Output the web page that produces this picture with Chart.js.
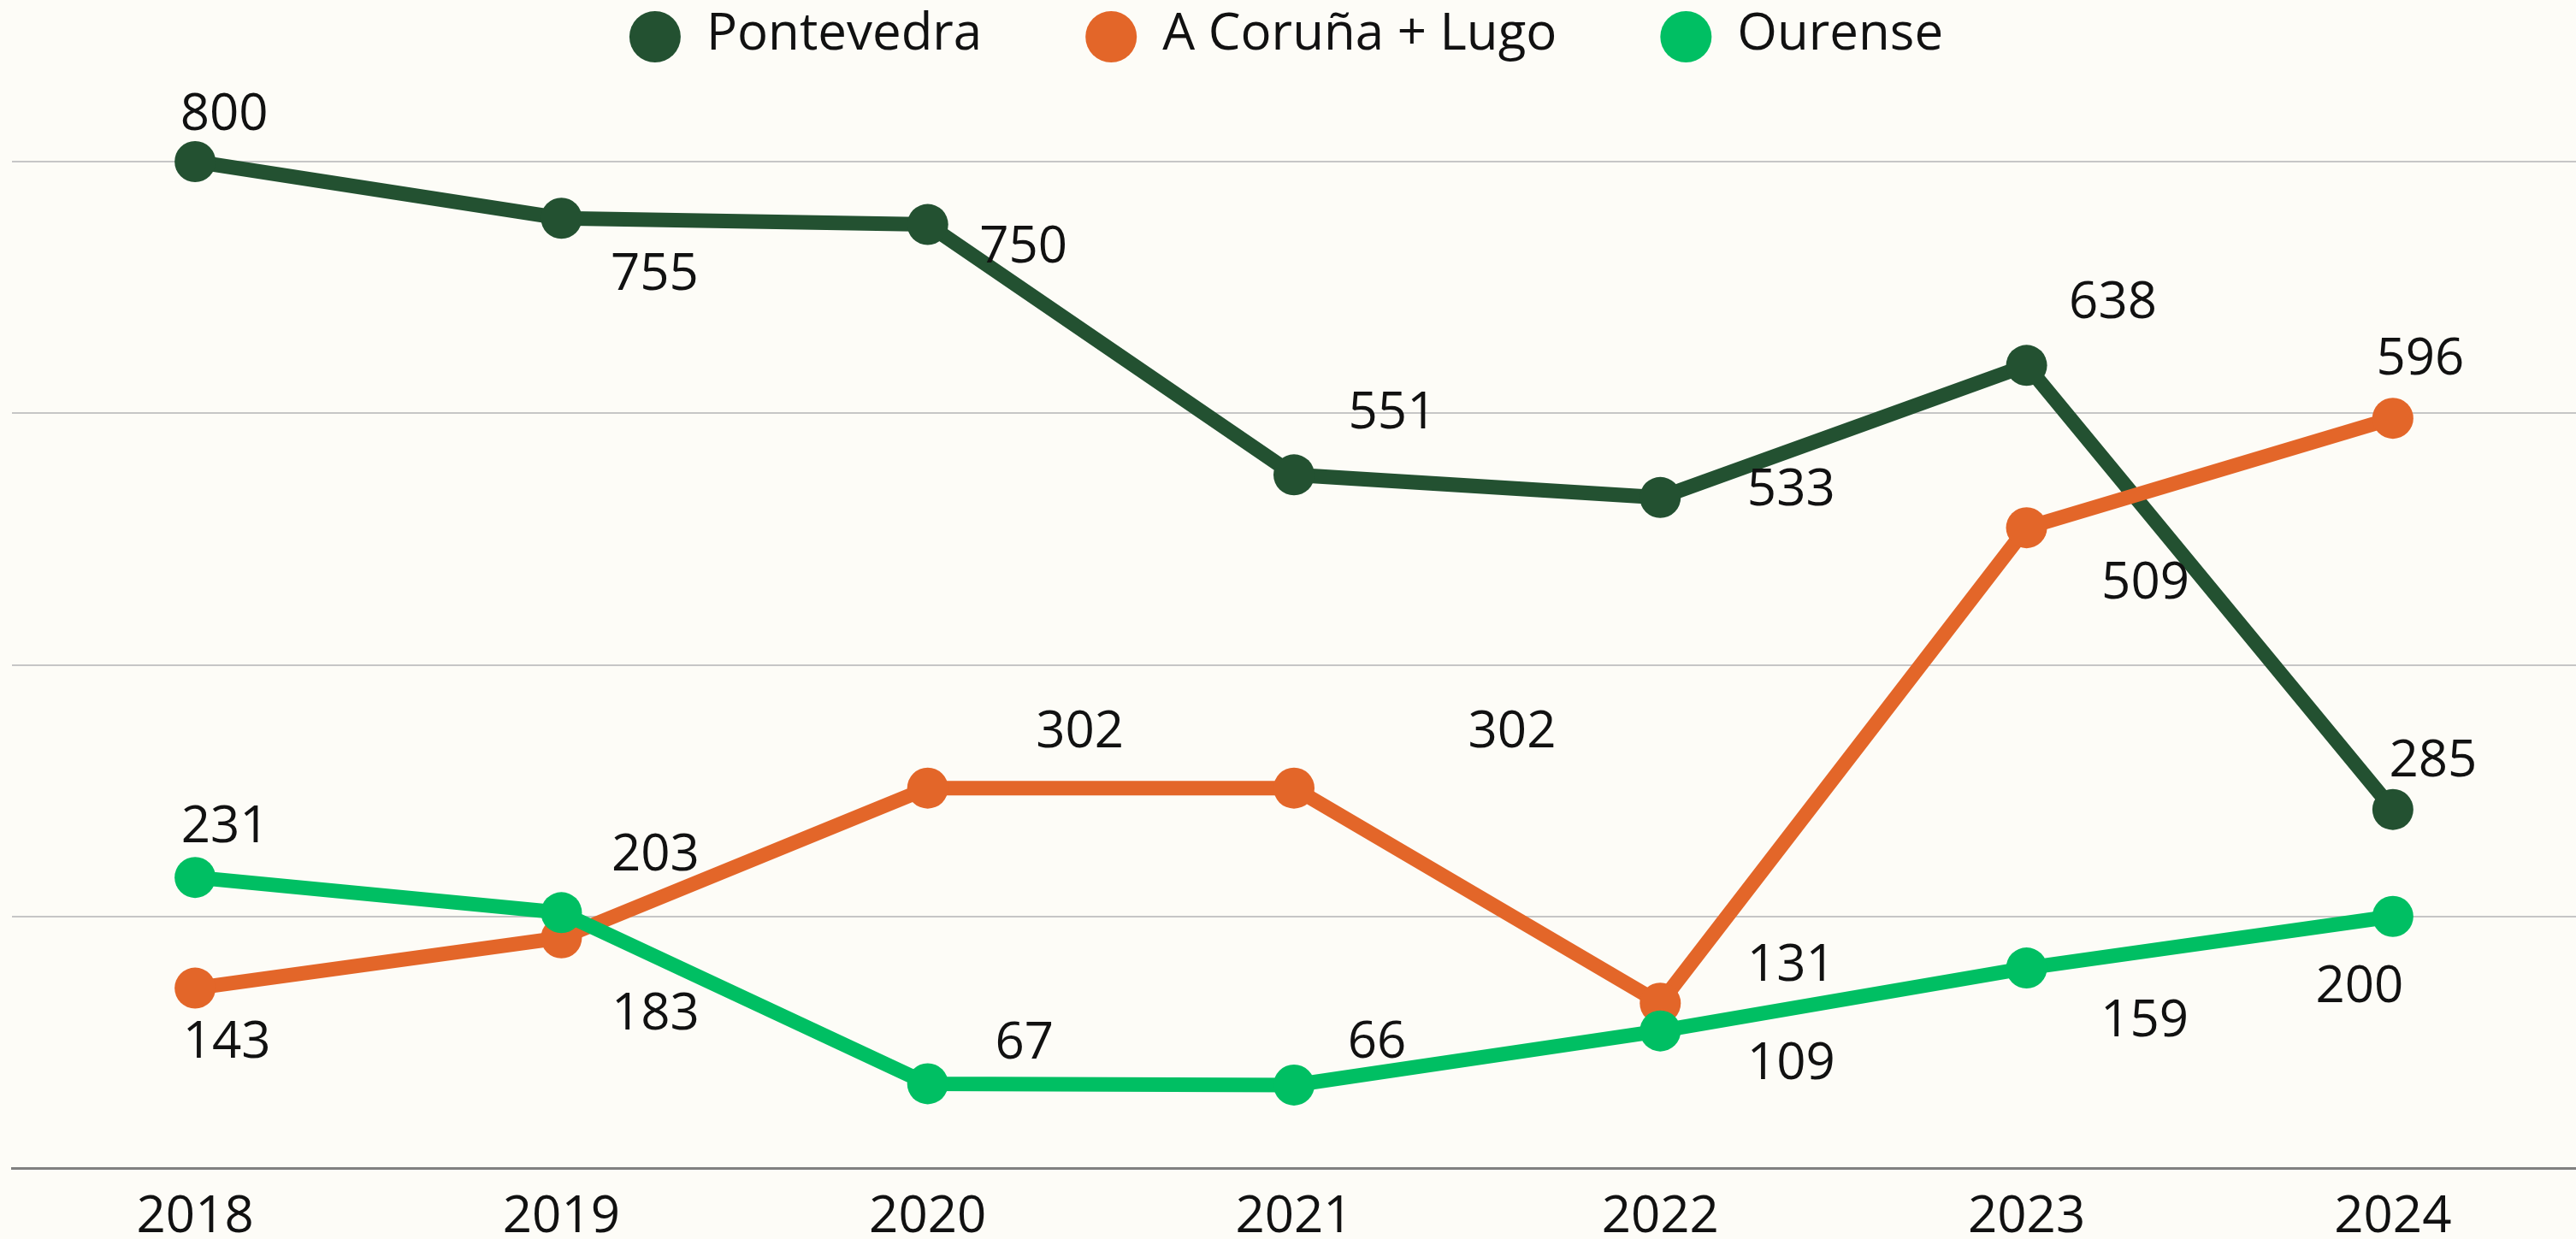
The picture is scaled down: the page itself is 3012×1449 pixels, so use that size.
<!DOCTYPE html>
<html>
<head>
<meta charset="utf-8">
<script src="https://cdn.jsdelivr.net/npm/chart.js@4.4.1/dist/chart.umd.min.js"></script>
<style>
    html, body { margin: 0; padding: 0; background: #fdfcf7; overflow: hidden; }
    #wrap { width: 3012px; height: 1449px; }
    canvas { display: block; }
</style>
</head>
<body>
<div id="wrap"><canvas id="lineChart" width="3012" height="1449"></canvas></div>
<script>
const years = ['2018', '2019', '2020', '2021', '2022', '2023', '2024'];
const seriesNames = ['Pontevedra', 'A Coruña + Lugo', 'Ourense'];
const pontevedra = [800, 755, 750, 551, 533, 638, 285];
const corunaLugo = [143, 183, 302, 302, 131, 509, 596];
const ourense = [231, 203, 67, 66, 109, 159, 200];
const yTicks = [0, 200, 400, 600, 800];

const colors = ['#235131', '#e36629', '#00bf63'];
const FONT = "'Open Sans', 'Noto Sans', sans-serif";
const FONT_SIZE = 60;

// where each value label sits relative to its point (px)
const labelOffsets = [
    [[30, -58], [105, 63], [108, 23], [111, -75], [149, -12], [97, -76], [43, -60]],
    [[33, 60], [106, 86], [174, -69], [251, -69], [149, -47], [135, 62], [28, -72]],
    [[31, -62], [106, -70], [109, -51], [93, -53], [149, 35], [134, 59], [-43, 79]]
];

const valueLabels = {
    id: 'valueLabels',
    afterDatasetsDraw(chart) {
        const ctx = chart.ctx;
        ctx.save();
        ctx.font = FONT_SIZE + 'px ' + FONT;
        ctx.fillStyle = '#111';
        ctx.textAlign = 'center';
        ctx.textBaseline = 'middle';
        chart.data.datasets.forEach((ds, i) => {
            const meta = chart.getDatasetMeta(i);
            meta.data.forEach((pt, j) => {
                const off = labelOffsets[i][j];
                ctx.fillText(String(ds.data[j]), pt.x + off[0] + 4, pt.y + off[1] + 4);
            });
        });
        ctx.restore();
    }
};

const topLegend = {
    id: 'topLegend',
    afterDraw(chart) {
        const ctx = chart.ctx;
        const r = 30, gapText = 30, gapItem = 121, cy = 43;
        ctx.save();
        ctx.font = FONT_SIZE + 'px ' + FONT;
        const items = chart.data.datasets.map(ds => ({
            text: ds.label, color: ds.borderColor, w: ctx.measureText(ds.label).width
        }));
        let total = 0;
        items.forEach((it, k) => {
            total += r * 2 + gapText + it.w + (k < items.length - 1 ? gapItem : 0);
        });
        let x = chart.width / 2 - total / 2 - 2;
        items.forEach(it => {
            ctx.fillStyle = it.color;
            ctx.beginPath();
            ctx.arc(x + r, cy, r, 0, Math.PI * 2);
            ctx.fill();
            ctx.fillStyle = '#111';
            ctx.textAlign = 'left';
            ctx.textBaseline = 'middle';
            ctx.fillText(it.text, x + r * 2 + gapText, cy - 2);
            x += r * 2 + gapText + it.w + gapItem;
        });
        ctx.restore();
    }
};

const datasets = [pontevedra, corunaLugo, ourense].map((vals, i) => ({
    label: seriesNames[i],
    data: vals,
    borderColor: colors[i],
    backgroundColor: colors[i],
    pointBackgroundColor: colors[i],
    borderWidth: 17,
    pointRadius: 24,
    pointBorderWidth: 0,
    pointHoverRadius: 24,
    tension: 0,
    clip: false,
    order: 3 - i
}));

new Chart(document.getElementById('lineChart'), {
    type: 'line',
    data: { labels: years, datasets: datasets },
    options: {
        responsive: false,
        animation: false,
        layout: { autoPadding: false, padding: { top: 189, left: 14, right: 0, bottom: 0 } },
        plugins: {
            legend: { display: false },
            tooltip: { enabled: false }
        },
        scales: {
            x: {
                offset: true,
                afterFit: scale => { scale.height = 83; },
                grid: { display: false, drawTicks: false },
                border: { display: true, color: '#808080', width: 3 },
                ticks: {
                    padding: 26,
                    color: '#111',
                    font: { family: FONT, size: FONT_SIZE, lineHeight: 1.05 }
                }
            },
            y: {
                min: yTicks[0],
                max: yTicks[yTicks.length - 1],
                afterBuildTicks: axis => { axis.ticks = yTicks.map(v => ({ value: v })); },
                grid: { color: '#c6c6c6', lineWidth: 2, drawTicks: false },
                border: { display: false },
                ticks: { display: false }
            }
        }
    },
    plugins: [valueLabels, topLegend]
});
</script>
</body>
</html>
